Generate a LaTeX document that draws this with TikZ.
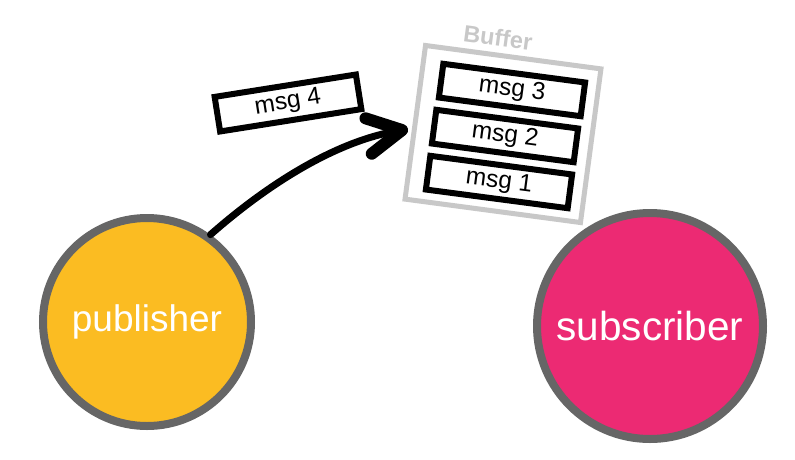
\documentclass[tikz,border=0pt]{standalone}
\usepackage{fontspec}
\setmainfont{Liberation Sans}
\usetikzlibrary{arrows.meta}
\definecolor{pubfill}{HTML}{FBBC22}
\definecolor{subfill}{HTML}{EC2A73}
\definecolor{ringgray}{HTML}{666666}
\definecolor{bufgray}{HTML}{C8C8C8}
\tikzset{
  actor/.style={circle, draw=ringgray, line width=8pt, inner sep=0pt, text=white},
  msgbox/.style={draw=black, line width=6pt, fill=white, inner sep=0pt, minimum width=143pt, minimum height=34pt, font=\fontsize{24.5}{24.5}\selectfont},
  bufbox/.style={draw=bufgray, line width=5pt, fill=white, inner sep=0pt, minimum width=177pt, minimum height=155pt},
  flow/.style={line width=7pt, line cap=round, -{Straight Barb[length=34pt, width=36pt, line width=12pt, round]}}
}
\begin{document}
\begin{tikzpicture}[x=1pt, y=-1pt]
\useasboundingbox (0,0) rectangle (795,459);
% buffer
\node[bufbox, rotate=-7.6] (buffer) at (503,134) {};
\node[text=bufgray, font=\bfseries\fontsize{23.5}{23.5}\selectfont, rotate=-7.6] (buflabel) at (498,38) {Buffer};
\node[msgbox, rotate=-7.5] (m3) at (512,90) {msg 3};
\node[msgbox, rotate=-7.5] (m2) at (505,136) {msg 2};
\node[msgbox, rotate=-7.5] (m1) at (499,182) {msg 1};
\node[msgbox, rotate=9, minimum height=35pt] (m4) at (288,103) {msg 4};
% actors
\node[actor, fill=pubfill, minimum size=208pt, font=\fontsize{37}{37}\selectfont] (pub) at (147,322) {publisher};
\node[actor, fill=subfill, minimum size=226pt, font=\fontsize{40.5}{40.5}\selectfont] (sub) at (650,326) {subscriber};
% arrow
\coordinate (tip) at (408,129);
\draw[flow] (pub.54) .. controls (268,184) and (335,142) .. (tip);
\end{tikzpicture}
\end{document}
